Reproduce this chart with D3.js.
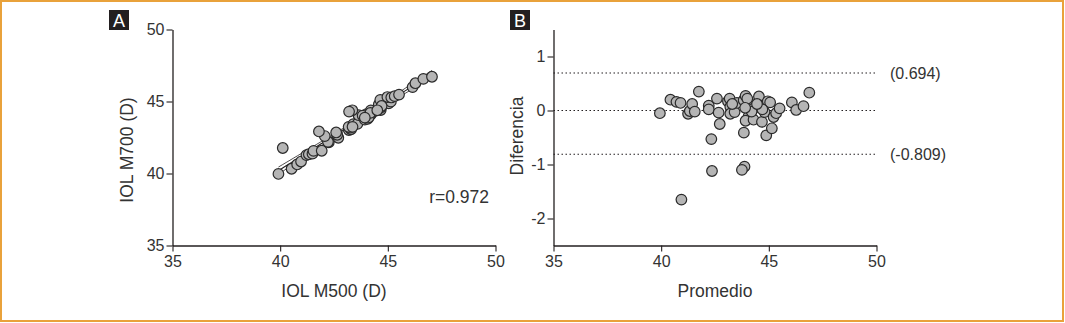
<!DOCTYPE html>
<html><head><meta charset="utf-8">
<script src="https://cdn.jsdelivr.net/npm/d3@7"></script>
<style>body{margin:0;background:#fff}svg{display:block;font-family:"Liberation Sans",Arial,sans-serif}</style>
</head><body><svg id="c" width="1065" height="323"></svg>
<script>
// Panel A: IOL M500 vs IOL M700
const m500 = [39.92,40.53,40.79,40.97,40.12,41.22,41.33,41.50,41.55,41.93,42.26,42.22,42.07,41.80,42.70,42.65,42.60,43.19,43.29,43.25,43.18,43.40,43.59,43.93,44.06,43.64,43.35,43.20,44.01,43.83,44.21,44.32,44.21,44.67,44.67,44.58,44.79,44.65,45.04,45.14,44.98,45.16,45.32,45.52,46.15,46.28,46.65,47.05,44.11,44.19,43.36,44.71,44.51,43.93];
const m700 = [39.97,40.33,40.63,40.83,41.77,41.28,41.34,41.38,41.57,41.58,42.17,42.20,42.60,42.92,42.48,42.69,42.85,43.02,43.07,43.18,43.24,43.43,43.45,43.74,43.79,44.05,44.39,44.30,44.12,44.02,44.10,44.28,44.38,44.41,44.58,44.79,44.82,45.11,44.87,44.99,45.31,45.28,45.37,45.48,46.00,46.27,46.57,46.72,43.89,44.21,43.24,44.69,44.39,43.88];
// Panel B: Bland-Altman
const promedio = [39.94,40.43,40.71,40.90,40.94,41.25,41.33,41.44,41.56,41.75,42.21,42.21,42.33,42.36,42.59,42.67,42.72,43.10,43.18,43.21,43.21,43.41,43.52,43.83,43.92,43.84,43.87,43.75,44.06,43.92,44.15,44.30,44.29,44.54,44.62,44.68,44.80,44.88,44.95,45.06,45.14,45.22,45.34,45.50,46.07,46.27,46.61,46.88,44.0,44.2,43.3,44.7,44.45,43.9];
const diferencia = [-0.05,0.20,0.16,0.14,-1.65,-0.06,-0.01,0.12,-0.02,0.35,0.09,0.02,-0.53,-1.12,0.22,-0.04,-0.25,0.17,0.22,0.07,-0.06,-0.03,0.14,0.19,0.27,-0.41,-1.04,-1.10,-0.11,-0.19,0.11,0.04,-0.17,0.26,0.09,-0.21,-0.03,-0.46,0.17,0.15,-0.33,-0.12,-0.05,0.04,0.15,0.01,0.08,0.33,0.22,-0.02,0.12,0.02,0.12,0.05];
const loaValues = [0.694, 0.0, -0.809];
const loaLabels = ["(0.694)", "", "(-0.809)"];
const ticksA = [35,40,45,50];
const ticksBx = [35,40,45,50];
const ticksBy = [1,0,-1,-2];
const corrLabel = "r=0.972";

const svg = d3.select("#c");
const ink = "#231f20";
svg.append("rect").attr("x",1).attr("y",1).attr("width",1062).attr("height",320)
  .attr("fill","none").attr("stroke","#e9a23b").attr("stroke-width",2);

function styleAxis(g){
  g.select(".domain").attr("stroke",ink).attr("stroke-width",1.3);
  g.selectAll(".tick line").attr("stroke",ink).attr("stroke-width",1.1);
  g.selectAll(".tick text").attr("fill","#333").style("font-size","16px").style("font-family","'Liberation Sans',Arial,sans-serif");
}
function panelTag(x,y,t){
  svg.append("rect").attr("x",x).attr("y",y).attr("width",20).attr("height",20).attr("fill","#231f20");
  svg.append("text").attr("x",x+10).attr("y",y+16.5).attr("text-anchor","middle").attr("fill","#fff")
    .style("font-size","18px").text(t);
}

// ---- Panel A ----
const xA = d3.scaleLinear().domain([35,50]).range([172.5,495.5]);
const yA = d3.scaleLinear().domain([35,50]).range([245.5,29.5]);
svg.append("g").attr("transform","translate(0,245.5)")
  .call(d3.axisBottom(xA).tickValues(ticksA).tickSize(6).tickPadding(4).tickSizeOuter(0)).call(styleAxis);
svg.append("g").attr("transform","translate(172.5,0)")
  .call(d3.axisLeft(yA).tickValues(ticksA).tickSize(6).tickPadding(2).tickSizeOuter(0)).call(styleAxis);
panelTag(109,10,"A");
svg.append("text").attr("x",(xA(35)+xA(50))/2).attr("y",297).attr("text-anchor","middle").attr("fill","#333")
  .style("font-size","17.5px").text("IOL M500 (D)");
svg.append("text").attr("transform","translate(133,150) rotate(-90)").attr("text-anchor","middle").attr("fill","#333")
  .style("font-size","17.5px").text("IOL M700 (D)");
svg.append("text").attr("x",489).attr("y",203).attr("text-anchor","end").attr("fill","#333")
  .style("font-size","17.5px").text(corrLabel);

// regression + 95% CI (computed from the data)
const n = m500.length, mx = d3.mean(m500), my = d3.mean(m700);
let sxx=0, sxy=0; m500.forEach((x,i)=>{sxx+=(x-mx)**2; sxy+=(x-mx)*(m700[i]-my);});
const b = sxy/sxx, a = my - b*mx;
let sse=0; m500.forEach((x,i)=>{sse+=(m700[i]-(a+b*x))**2;});
const se = Math.sqrt(sse/(n-2)), tval = 2.007;
const xs = d3.range(0,41).map(i=>d3.min(m500)+i*(d3.max(m500)-d3.min(m500))/40);
const lineA = d3.line().x(d=>xA(d[0])).y(d=>yA(d[1]));
[0,1,-1].forEach(s=>{
  const pts = xs.map(x=>[x, a+b*x + s*tval*se*Math.sqrt(1/n + (x-mx)**2/sxx)]);
  svg.append("path").attr("d",lineA(pts)).attr("fill","none").attr("stroke",ink).attr("stroke-width",s===0?1.1:0.8);
});
svg.append("g").selectAll("circle").data(m500.map((x,i)=>[x,m700[i]])).join("circle")
  .attr("cx",d=>xA(d[0])).attr("cy",d=>yA(d[1])).attr("r",5.3)
  .attr("fill","#b5b5b5").attr("stroke","#2a2a2a").attr("stroke-width",1.2);

// ---- Panel B ----
const xB = d3.scaleLinear().domain([35,50]).range([553.5,876.5]);
const yB = d3.scaleLinear().domain([-2.5,1.5]).range([245.5,29.5]);
svg.append("g").attr("transform","translate(0,245.5)")
  .call(d3.axisBottom(xB).tickValues(ticksBx).tickSize(6).tickPadding(4).tickSizeOuter(0)).call(styleAxis);
svg.append("g").attr("transform","translate(553.5,0)")
  .call(d3.axisLeft(yB).tickValues(ticksBy).tickFormat(d=>String(d)).tickSize(6).tickPadding(2).tickSizeOuter(0)).call(styleAxis);
panelTag(510,10,"B");
svg.append("text").attr("x",(xB(35)+xB(50))/2).attr("y",297).attr("text-anchor","middle").attr("fill","#333")
  .style("font-size","17.5px").text("Promedio");
svg.append("text").attr("transform","translate(523,136) rotate(-90)").attr("text-anchor","middle").attr("fill","#333")
  .style("font-size","17.5px").text("Diferencia");
loaValues.forEach((v,i)=>{
  svg.append("line").attr("x1",xB(35)).attr("x2",xB(50)).attr("y1",yB(v)).attr("y2",yB(v))
    .attr("stroke",ink).attr("stroke-width",1.1).attr("stroke-dasharray","1.5,2.5");
  if(loaLabels[i]) svg.append("text").attr("x",890).attr("y",yB(v)+5.5).attr("fill","#333")
    .style("font-size","16px").text(loaLabels[i]);
});
svg.append("g").selectAll("circle").data(promedio.map((x,i)=>[x,diferencia[i]])).join("circle")
  .attr("cx",d=>xB(d[0])).attr("cy",d=>yB(d[1])).attr("r",5.3)
  .attr("fill","#b5b5b5").attr("stroke","#2a2a2a").attr("stroke-width",1.2);
</script></body></html>
